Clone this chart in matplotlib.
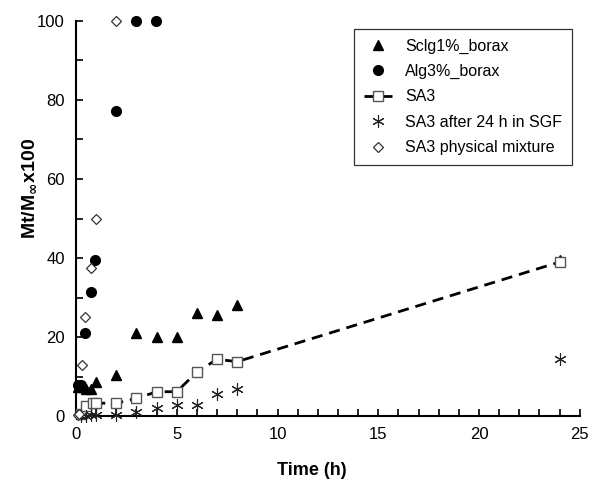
import numpy as np
import matplotlib
matplotlib.use('Agg')
import matplotlib.pyplot as plt
from matplotlib.ticker import MultipleLocator

plt.rcParams['font.family'] = ['Liberation Sans', 'DejaVu Sans']

# Sclg1%_borax (filled triangles)
t_sclg = [0.1, 0.25, 0.5, 0.75, 1, 2, 3, 4, 5, 6, 7, 8, 24]
y_sclg = [7.5, 7.5, 7, 7, 8.7, 10.4, 21, 20.1, 20.1, 26, 25.6, 28.2, 39.5]

# Alg3%_borax (filled circles)
t_alg = [0.1, 0.25, 0.45, 0.73, 0.94, 1.98, 2.96, 3.97]
y_alg = [8, 7.8, 21, 31.5, 39.5, 77.2, 100, 100]

# SA3 (open squares, dashed line)
t_sa3 = [0.25, 0.5, 0.86, 1, 2, 3, 4, 5, 6, 7, 8, 24]
y_sa3 = [0.5, 2.5, 3.3, 3.3, 3.3, 4.5, 6.2, 6.2, 11.2, 14.4, 13.8, 39]

# SA3 after 24 h in SGF (asterisks)
t_sgf = [0.25, 0.5, 0.75, 1, 2, 3, 4, 5, 6, 7, 8, 24]
y_sgf = [0, 0, 0.2, 0.3, 0.3, 1.1, 2.2, 2.8, 2.8, 5.5, 6.8, 14.6]

# SA3 physical mixture (open diamonds)
t_mix = [0.08, 0.17, 0.28, 0.45, 0.73, 0.97, 2]
y_mix = [0.3, 0.6, 13, 25.2, 37.6, 50, 100]

fig = plt.figure(figsize=(5.94, 4.84), dpi=100)
ax = fig.add_axes([0.128, 0.14, 0.848, 0.817])

ax.plot(t_sclg, y_sclg, linestyle='none', marker='^', color='black',
        markersize=7, clip_on=False, label='Sclg1%_borax', zorder=3)
ax.plot(t_alg, y_alg, linestyle='none', marker='o', color='black',
        markersize=7, clip_on=False, label='Alg3%_borax', zorder=3)
ax.plot(t_sa3, y_sa3, linestyle=(0, (4, 2.5)), color='black', linewidth=2,
        marker='s', markersize=7, markerfacecolor='white',
        markeredgecolor='#555555', markeredgewidth=1, clip_on=False,
        label='SA3', zorder=3)
ax.plot(t_sgf, y_sgf, linestyle='none', marker=(6, 2, 0), color='#222222',
        markersize=9, markeredgewidth=0.8, clip_on=False,
        label='SA3 after 24 h in SGF', zorder=3)
ax.plot(t_mix, y_mix, linestyle='none', marker='D', markersize=5.5,
        markerfacecolor='white', markeredgecolor='#333333',
        markeredgewidth=0.9, clip_on=False,
        label='SA3 physical mixture', zorder=3)

ax.set_xlim(0, 25)
ax.set_ylim(0, 100)
ax.xaxis.set_major_locator(MultipleLocator(5))
ax.xaxis.set_minor_locator(MultipleLocator(1))
ax.yaxis.set_major_locator(MultipleLocator(20))
ax.yaxis.set_minor_locator(MultipleLocator(10))
ax.tick_params(which='both', direction='in', length=5, width=1.2,
               labelsize=12, pad=8)

for s in ['top', 'right']:
    ax.spines[s].set_visible(False)
for s in ['left', 'bottom']:
    ax.spines[s].set_linewidth(1.5)

ax.set_xlabel('Time (h)', fontsize=13, fontweight='bold', va='center')
ax.xaxis.set_label_coords(0.468, -0.137)
ax.set_ylabel(r'Mt/M$_{\mathbf{\infty}}$x100', fontsize=14,
              fontweight='bold', va='center')
ax.yaxis.set_label_coords(-0.091, 0.577)

leg = ax.legend(loc='upper right', bbox_to_anchor=(1.0, 1.0), fontsize=11.5,
                frameon=True, fancybox=False, edgecolor='black',
                handlelength=1.8, borderpad=0.6, labelspacing=0.65)
leg.get_frame().set_linewidth(0.9)

fig.savefig('out.png', dpi=100)
